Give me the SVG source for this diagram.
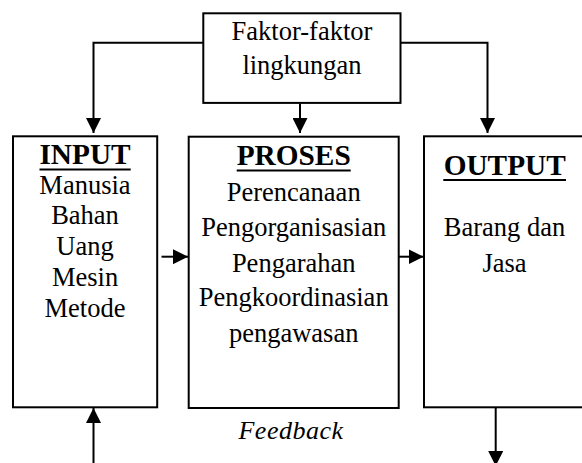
<svg xmlns="http://www.w3.org/2000/svg" width="582" height="463" viewBox="0 0 582 463">
<style>
.box{fill:#fff;stroke:#000;stroke-width:2}
.t{font-family:"Liberation Serif","Times New Roman",serif;font-size:26.5px;fill:#000;text-anchor:middle}
.h{font-family:"Liberation Serif","Times New Roman",serif;font-size:29.3px;font-weight:bold;fill:#000;text-anchor:middle}
.u{stroke:#000;stroke-width:2}
.c{fill:none;stroke:#000;stroke-width:2}
.fb{font-family:"Liberation Serif","Times New Roman",serif;font-size:26px;font-style:italic;fill:#000;text-anchor:middle;letter-spacing:0.5px}
</style>
<defs>
<marker id="ah" markerUnits="userSpaceOnUse" markerWidth="16" markerHeight="15" refX="15" refY="7.5" orient="auto">
<path d="M0,0 L15,7.5 L0,15 z" fill="#000"/>
</marker>
</defs>
<rect width="582" height="463" fill="#fff"/>
<g id="connectors">
<polyline class="c" points="203.5,42.7 93.5,42.7 93.5,133" marker-end="url(#ah)"/>
<polyline class="c" points="300,103.5 300,133" marker-end="url(#ah)"/>
<polyline class="c" points="400.5,42.7 487.5,42.7 487.5,133" marker-end="url(#ah)"/>
<line class="c" x1="161.5" y1="256.7" x2="188" y2="256.7" marker-end="url(#ah)"/>
<line class="c" x1="398.5" y1="256.7" x2="423.5" y2="256.7" marker-end="url(#ah)"/>
<line class="c" x1="93.5" y1="463" x2="93.5" y2="408" marker-end="url(#ah)"/>
<line class="c" x1="495.7" y1="407.5" x2="495.7" y2="466" marker-end="url(#ah)"/>
</g>
<g id="lingkungan">
<rect class="box" x="203.3" y="13.3" width="197.2" height="89.6"/>
<text class="t" x="302" y="39.5">Faktor-faktor</text>
<text class="t" x="302" y="74">lingkungan</text>
</g>
<g id="input">
<rect class="box" x="13" y="136.3" width="144.2" height="271"/>
<text class="h" x="85" y="163.5">INPUT</text>
<line class="u" x1="39.5" y1="169.5" x2="130.7" y2="169.5"/>
<text class="t" x="85" y="193.5">Manusia</text>
<text class="t" x="85" y="224.3">Bahan</text>
<text class="t" x="85" y="255.2">Uang</text>
<text class="t" x="85" y="286.2">Mesin</text>
<text class="t" x="85" y="317.3">Metode</text>
</g>
<g id="proses">
<rect class="box" x="188.7" y="136.7" width="210" height="271.3"/>
<text class="h" x="293.7" y="165">PROSES</text>
<line class="u" x1="236.7" y1="170.5" x2="350.7" y2="170.5"/>
<text class="t" x="293.7" y="200.7">Perencanaan</text>
<text class="t" x="293.7" y="236">Pengorganisasian</text>
<text class="t" x="293.7" y="271.7">Pengarahan</text>
<text class="t" x="293.7" y="305.7">Pengkoordinasian</text>
<text class="t" x="293.7" y="341.5">pengawasan</text>
</g>
<g id="output">
<rect class="box" x="424" y="136.3" width="162" height="271"/>
<text class="h" x="504.7" y="175">OUTPUT</text>
<line class="u" x1="443.3" y1="180" x2="566" y2="180"/>
<text class="t" x="504.5" y="236">Barang dan</text>
<text class="t" x="504.5" y="271.7">Jasa</text>
</g>
<g id="feedback">
<text class="fb" x="291" y="438.5">Feedback</text>
</g>
</svg>
